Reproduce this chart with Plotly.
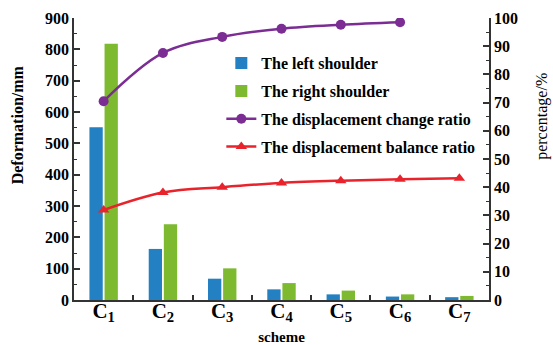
import plotly.graph_objects as go

categories = ["C<sub>1</sub>", "C<sub>2</sub>", "C<sub>3</sub>", "C<sub>4</sub>",
              "C<sub>5</sub>", "C<sub>6</sub>", "C<sub>7</sub>"]
left_shoulder = [551, 163, 68, 34, 18, 11, 9]
right_shoulder = [818, 242, 101, 54, 30, 18, 13]
change_ratio = [70.5, 87.6, 93.3, 96.2, 97.6, 98.5]
balance_ratio = [31.9, 38.1, 40.0, 41.5, 42.3, 42.8, 43.2]

FONT = "Liberation Serif"
AX = "#333333"

fig = go.Figure()
fig.add_trace(go.Bar(x=categories, y=left_shoulder, name="The left shoulder",
                     marker=dict(color="#2280c3", line=dict(width=0)),
                     legendgroup="a"))
fig.add_trace(go.Bar(x=categories, y=right_shoulder, name="The right shoulder",
                     marker=dict(color="#7dba2f", line=dict(width=0)),
                     legendgroup="b"))
fig.add_trace(go.Scatter(x=categories[:6], y=change_ratio, name="The displacement change ratio",
                         mode="lines+markers", yaxis="y2",
                         line=dict(color="#7b2d94", width=2.5, shape="spline", smoothing=1),
                         marker=dict(symbol="circle", size=10, color="#7b2d94"),
                         legendgroup="c"))
fig.add_trace(go.Scatter(x=categories, y=balance_ratio, name="The displacement balance ratio",
                         mode="lines+markers", yaxis="y2",
                         line=dict(color="#e8232b", width=2.5, shape="spline", smoothing=1),
                         marker=dict(symbol="triangle-up", size=10, color="#e8232b"),
                         legendgroup="d"))

fig.update_layout(
    width=553, height=345,
    margin=dict(l=74, r=64, t=18, b=45),
    plot_bgcolor="white", paper_bgcolor="white",
    barmode="group", bargap=0.49, bargroupgap=0.12,
    font=dict(family=FONT, color="black"),
    showlegend=True,
    legend=dict(x=0.355, y=0.90, xanchor="left", yanchor="top",
                bgcolor="rgba(0,0,0,0)", tracegroupgap=4,
                font=dict(family=FONT, size=16, color="black", weight="bold")),
    xaxis=dict(type="category", range=[-0.5, 6.5], showline=True, linecolor=AX, linewidth=1.5,
               ticks="inside", tickson="boundaries", ticklen=5, tickcolor=AX, tickwidth=1.5,
               ticklabelstandoff=-9,
               tickfont=dict(family=FONT, size=21, weight="bold"), showgrid=False, automargin=False,
               title=dict(text="scheme", font=dict(family=FONT, size=15, weight="bold"), standoff=7)),
    yaxis=dict(range=[0, 900], dtick=100, showline=True, linecolor=AX, linewidth=1.5,
               ticks="inside", ticklen=6, tickcolor=AX, tickwidth=1.5,
               minor=dict(ticks="inside", ticklen=3, dtick=50, tickcolor=AX, tickwidth=1.2),
               tickfont=dict(family=FONT, size=16, weight="bold"), showgrid=False, zeroline=False,
               automargin=False),
    yaxis2=dict(range=[0, 100], dtick=10, overlaying="y", side="right", showline=True,
                linecolor=AX, linewidth=1.5, ticks="inside", ticklen=6, tickcolor=AX, tickwidth=1.5,
                minor=dict(ticks="inside", ticklen=3, dtick=5, tickcolor=AX, tickwidth=1.2),
                tickfont=dict(family=FONT, size=16, weight="bold"), showgrid=False, zeroline=False,
                automargin=False),
    annotations=[
        dict(text="Deformation/mm", xref="paper", yref="paper", x=-0.137, y=0.62,
             showarrow=False, textangle=-90, xanchor="center", yanchor="middle",
             font=dict(family=FONT, size=16, weight="bold", color="black")),
        dict(text="percentage/%", xref="paper", yref="paper", x=1.128, y=0.65,
             showarrow=False, textangle=-90, xanchor="center", yanchor="middle",
             font=dict(family=FONT, size=16, color="black")),
    ],
)

fig.write_html("out.html")
